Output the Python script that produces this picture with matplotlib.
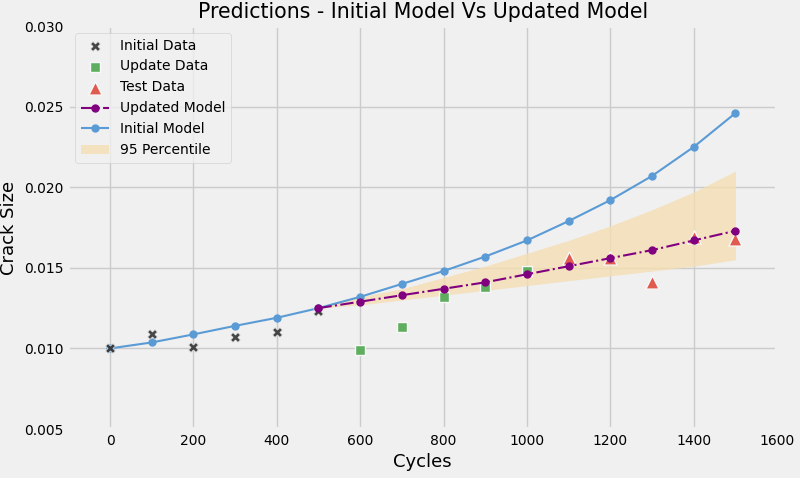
import matplotlib
matplotlib.use("Agg")
import matplotlib.pyplot as plt
import numpy as np

plt.style.use("fivethirtyeight")

# ── Data ────────────────────────────────────────────────────────────────────
init_x = [0, 100, 200, 300, 400, 500]
init_y = [0.0100, 0.0109, 0.0101, 0.0107, 0.0110, 0.0123]

upd_x = [600, 700, 800, 900, 1000]
upd_y = [0.0099, 0.0113, 0.0132, 0.0138, 0.0148]

test_x = [1100, 1200, 1300, 1400, 1500]
test_y = [0.0156, 0.0156, 0.0141, 0.0169, 0.0168]

model_x = [0, 100, 200, 300, 400, 500, 600, 700, 800, 900, 1000,
           1100, 1200, 1300, 1400, 1500]
init_model = [0.0100, 0.01037, 0.01087, 0.0114, 0.0119, 0.0125, 0.0132,
              0.0140, 0.0148, 0.0157, 0.0167, 0.0179, 0.0192, 0.0207,
              0.0225, 0.0246]

upd_model_x = [500, 600, 700, 800, 900, 1000, 1100, 1200, 1300, 1400, 1500]
upd_model = [0.0125, 0.0129, 0.0133, 0.0137, 0.0141, 0.0146, 0.0151,
             0.0156, 0.0161, 0.0167, 0.0173]
band_lo = [0.0125, 0.0127, 0.0130, 0.0133, 0.0136, 0.0139, 0.0142,
           0.0145, 0.0148, 0.0151, 0.0155]
band_hi = [0.0125, 0.0132, 0.0137, 0.0144, 0.0151, 0.0159, 0.0167,
           0.0176, 0.0186, 0.0197, 0.0210]

# ── Figure ───────────────────────────────────────────────────────────────────
fig = plt.figure(figsize=(8, 4.78), dpi=100)
ax = fig.add_axes([0.0854, 0.1025, 0.886, 0.843])

ax.scatter(init_x, init_y, marker="X", s=50, color="#333333", alpha=0.9,
           edgecolors="#f0f0f0", linewidths=0.5, label="Initial Data", zorder=4)
ax.scatter(upd_x, upd_y, marker="s", s=60, color="#5fae5f",
           edgecolors="#f8f8f8", linewidths=1, label="Update Data", zorder=4)
ax.scatter(test_x, test_y, marker="^", s=90, color="#e05a50",
           edgecolors="#f8f8f8", linewidths=1, label="Test Data", zorder=4)
ax.plot(upd_model_x, upd_model, "-.", color="purple", marker="o",
        markersize=5, linewidth=1.5, label="Updated Model", zorder=5)
ax.plot(model_x, init_model, "-", color="#5b9bd5", marker="o",
        markersize=5, linewidth=1.5, label="Initial Model", zorder=3)
ax.fill_between(upd_model_x, band_lo, band_hi, color="wheat", alpha=0.8,
                linewidth=0, label="95 Percentile", zorder=2)

ax.set_xlim(-100, 1600)
ax.set_ylim(0.005, 0.030)
ax.set_xticks(np.arange(0, 1601, 200))
ax.set_yticks([0.005, 0.010, 0.015, 0.020, 0.025, 0.030])
ax.yaxis.set_major_formatter(matplotlib.ticker.FormatStrFormatter("%.3f"))
ax.tick_params(labelsize=10)
ax.set_xlabel("Cycles", fontsize=13)
ax.set_ylabel("Crack Size", fontsize=13)
ax.set_title("Predictions - Initial Model Vs Updated Model", fontsize=14.8)

ax.legend(loc="upper left", fontsize=10)

fig.savefig("out.png", dpi=100)
